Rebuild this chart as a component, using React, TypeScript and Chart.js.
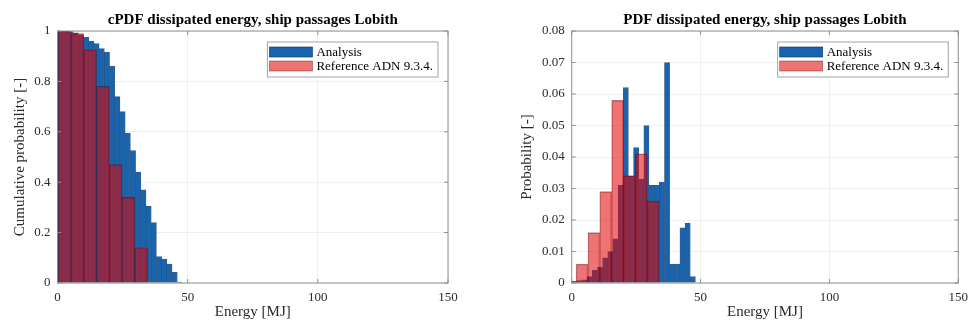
import React, { useEffect, useRef } from "react";
import { Chart, registerables } from "chart.js";

Chart.register(...registerables);

// ---------- data ----------
const seriesNames = ["Analysis", "Reference ADN 9.3.4."];
const chartTitles = [
  "cPDF dissipated energy, ship passages Lobith",
  "PDF dissipated energy, ship passages Lobith",
];
const yAxisTitles = ["Cumulative probability [-]", "Probability [-]"];
const xAxisTitle = "Energy [MJ]";
const xTickStep = 50;
const xMax = 150;

// Analysis histogram bin centres [MJ] (2 MJ bins)
const analysisBins = [1, 3, 5, 7, 9, 11, 13, 15, 17, 19, 21, 23, 25, 27, 29, 31, 33, 35, 37, 39, 41, 43, 45, 47];
// Reference histogram bin centres [MJ]
const referenceBinsCdf = [2.75, 7.65, 12.55, 17.45, 22.35, 27.25, 32.15];
const referenceBinsPdf = [4.0, 8.6, 13.2, 17.8, 22.4, 27.0, 31.6];

// left panel: exceedance (cumulative) probability
const analysisCdf = [1.0, 1.0, 0.998, 0.993, 0.985, 0.975, 0.96, 0.95, 0.93, 0.915, 0.86, 0.74, 0.68, 0.595, 0.525, 0.44, 0.37, 0.305, 0.24, 0.105, 0.095, 0.075, 0.042, 0.004];
const referenceCdf = [1.0, 0.99, 0.925, 0.78, 0.47, 0.34, 0.14];

// right panel: probability density
const analysisPdf = [0.0005, 0.0008, 0.001, 0.002, 0.004, 0.005, 0.008, 0.01, 0.014, 0.031, 0.062, 0.034, 0.043, 0.033, 0.05, 0.031, 0.031, 0.032, 0.07, 0.006, 0.006, 0.0175, 0.019, 0.002];
const referencePdf = [0.006, 0.016, 0.029, 0.058, 0.034, 0.041, 0.026];

// ---------- styles ----------
const BLUE = "#1864ae";
const BLUE_EDGE = "rgba(12,55,105,0.8)";
const RED = "rgba(228,0,0,0.55)";
const RED_EDGE = "rgba(70,0,20,0.45)";
const SERIF = '"Liberation Serif", "Times New Roman", serif';
const TEXT = "#2b2b2b";
const GRID = "rgba(0,0,0,0.06)";

const frameLegendPlugin = {
  id: "frameLegend",
  afterDatasetsDraw(chart: any) {
    const { ctx, chartArea: a, scales } = chart;
    ctx.save();
    // axes box
    ctx.strokeStyle = "#8f8f8f";
    ctx.lineWidth = 1;
    ctx.strokeRect(a.left, a.top, a.right - a.left, a.bottom - a.top);
    // inward tick marks on all sides
    const tl = 4;
    ctx.beginPath();
    scales.x.ticks.forEach((_t: any, i: number) => {
      const px = scales.x.getPixelForTick(i);
      ctx.moveTo(px, a.bottom);
      ctx.lineTo(px, a.bottom - tl);
      ctx.moveTo(px, a.top);
      ctx.lineTo(px, a.top + tl);
    });
    scales.y.ticks.forEach((_t: any, i: number) => {
      const py = scales.y.getPixelForTick(i);
      ctx.moveTo(a.left, py);
      ctx.lineTo(a.left + tl, py);
      ctx.moveTo(a.right, py);
      ctx.lineTo(a.right - tl, py);
    });
    ctx.stroke();

    // legend box (top-right, inside axes)
    const ds = chart.data.datasets;
    ctx.font = `13px ${SERIF}`;
    let maxW = 0;
    ds.forEach((d: any) => {
      maxW = Math.max(maxW, ctx.measureText(d.label).width);
    });
    const swW = 43;
    const boxW = 2 + swW + 4 + maxW + 5;
    const boxH = 35;
    const boxL = a.right - 10 - boxW;
    const boxT = a.top + 11;
    ctx.fillStyle = "#ffffff";
    ctx.fillRect(boxL, boxT, boxW, boxH);
    ctx.strokeStyle = "#a3a3a3";
    ctx.strokeRect(boxL, boxT, boxW, boxH);
    ds.forEach((d: any, i: number) => {
      const cy = boxT + 10 + 14 * i;
      ctx.fillStyle = d.backgroundColor;
      ctx.fillRect(boxL + 2, cy - 5, swW, 10);
      ctx.strokeStyle = d.borderColor;
      ctx.lineWidth = 0.8;
      ctx.strokeRect(boxL + 2, cy - 5, swW, 10);
      ctx.fillStyle = "#000";
      ctx.textBaseline = "middle";
      ctx.textAlign = "left";
      ctx.fillText(d.label, boxL + 2 + swW + 4, cy + 0.5);
    });
    ctx.restore();
  },
};

type PanelSpec = {
  title: string;
  yTitle: string;
  yMax: number;
  yStep: number;
  yAxisWidth: number;
  yTitlePad: number;
  padRight: number;
  blueX: number[];
  blueY: number[];
  redX: number[];
  redY: number[];
};

const plainNumber = (v: any) => String(Number(Number(v).toFixed(4)));

function makeConfig(p: PanelSpec): any {
  const tickFont = { family: SERIF, size: 13 };
  return {
    type: "bar",
    data: {
      datasets: [
        {
          label: seriesNames[0],
          data: p.blueX.map((x, i) => ({ x, y: p.blueY[i] })),
          xAxisID: "x",
          backgroundColor: BLUE,
          borderColor: BLUE_EDGE,
          borderWidth: 0.8,
          barPercentage: 1,
          categoryPercentage: 1,
          grouped: false,
          order: 2,
        },
        {
          label: seriesNames[1],
          data: p.redX.map((x, i) => ({ x, y: p.redY[i] })),
          xAxisID: "x2",
          backgroundColor: RED,
          borderColor: RED_EDGE,
          borderWidth: 0.8,
          barPercentage: 1,
          categoryPercentage: 1,
          grouped: false,
          order: 1,
        },
      ],
    },
    options: {
      animation: false,
      responsive: false,
      devicePixelRatio: 1,
      layout: { padding: { left: 0, right: p.padRight, top: 0, bottom: 0 } },
      plugins: {
        legend: { display: false },
        tooltip: { enabled: false },
        title: {
          display: true,
          text: p.title,
          fullSize: false,
          color: "#000",
          font: { family: SERIF, size: 15, weight: "bold" },
          padding: { top: 11, bottom: 2 },
        },
      },
      scales: {
        x: {
          type: "linear",
          min: 0,
          max: xMax,
          offset: false,
          ticks: { stepSize: xTickStep, padding: 7, font: tickFont, color: TEXT, callback: plainNumber },
          grid: { color: GRID, drawTicks: false, offset: false },
          border: { display: false },
          title: {
            display: true,
            text: xAxisTitle,
            color: TEXT,
            font: { family: SERIF, size: 15 },
            padding: { top: 0, bottom: 5.5 },
          },
          afterFit: (s: any) => {
            s.height = 44;
          },
        },
        x2: {
          type: "linear",
          min: 0,
          max: xMax,
          offset: false,
          display: false,
          grid: { offset: false },
        },
        y: {
          type: "linear",
          min: 0,
          max: p.yMax,
          ticks: { stepSize: p.yStep, padding: 7, font: tickFont, color: TEXT, callback: plainNumber },
          grid: { color: GRID, drawTicks: false },
          border: { display: false },
          title: {
            display: true,
            text: p.yTitle,
            color: TEXT,
            font: { family: SERIF, size: 15 },
            padding: { top: p.yTitlePad, bottom: 0 },
          },
          afterFit: (s: any) => {
            s.width = p.yAxisWidth;
          },
        },
      },
    },
    plugins: [frameLegendPlugin],
  };
}

function Panel({ left, width, spec }: { left: number; width: number; spec: PanelSpec }) {
  const ref = useRef<HTMLCanvasElement>(null);
  useEffect(() => {
    const chart = new Chart(ref.current as HTMLCanvasElement, makeConfig(spec));
    return () => chart.destroy();
  }, []);
  return (
    <canvas
      ref={ref}
      width={width}
      height={327}
      style={{ position: "absolute", left, top: 0, width, height: 327 }}
    />
  );
}

export default function App() {
  const leftSpec: PanelSpec = {
    title: chartTitles[0],
    yTitle: yAxisTitles[0],
    yMax: 1,
    yStep: 0.2,
    yAxisWidth: 57.5,
    yTitlePad: 11,
    padRight: 39,
    blueX: analysisBins,
    blueY: analysisCdf,
    redX: referenceBinsCdf,
    redY: referenceCdf,
  };
  const rightSpec: PanelSpec = {
    title: chartTitles[1],
    yTitle: yAxisTitles[1],
    yMax: 0.08,
    yStep: 0.01,
    yAxisWidth: 84.7,
    yTitlePad: 31,
    padRight: 13,
    blueX: analysisBins,
    blueY: analysisPdf,
    redX: referenceBinsPdf,
    redY: referencePdf,
  };
  return (
    <div style={{ position: "absolute", left: 0, top: 0, width: 975, height: 327, background: "#fff" }}>
      <Panel left={0} width={487} spec={leftSpec} />
      <Panel left={487} width={488} spec={rightSpec} />
    </div>
  );
}
